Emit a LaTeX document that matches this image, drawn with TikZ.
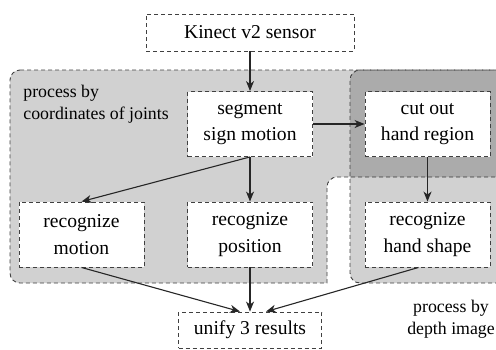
\documentclass[tikz,border=0pt]{standalone}
\usepackage{fontspec}
\setmainfont{Liberation Serif}
\usetikzlibrary{positioning, arrows.meta}

\begin{document}
\begin{tikzpicture}[x=0.5pt, y=-0.5pt, node distance=55.25pt, on grid, font=\fontsize{9.8}{13.3}\selectfont]
% styles
    \tikzstyle{stage} = [rectangle, draw=black!75, dash pattern=on 2pt off 1.5pt, line width=0.45pt, fill=white, align=center, minimum width=62.5pt, minimum height=32.5pt, inner sep=2pt]
    \tikzstyle{io} = [stage, minimum height=18.5pt]
    \tikzstyle{region} = [draw=black!75, dash pattern=on 2pt off 1.5pt, line width=0.45pt, fill=black, fill opacity=0.18, rounded corners=5pt]
    \tikzstyle{tag} = [font=\fontsize{8.9}{11}\selectfont, inner sep=0pt]
    \tikzstyle{line} = [draw, black!85, line width=0.55pt, -{Stealth[length=5pt, width=4pt, inset=1.5pt]}]

    \useasboundingbox (0,0) rectangle (496,349);
    \clip (0,0) rectangle (496,349);

    % regions: joints and depth image
    \path [region] (10,70) -- (520,70) -- (520,177) -- (327,177) [sharp corners] -- (327,283) [rounded corners=5pt] -- (10,283) -- cycle;
    \path [region] (350,70) -- (520,70) -- (520,283) -- (350,283) -- cycle;
    \node [tag, align=left, anchor=north west] (lbljoints) at (23,85) {process by\\coordinates of joints};
    \node [tag, align=center] (lbldepth) at (451,319) {process by\\depth image};

    % nodes
    \node [io, minimum width=104pt] (kinect) at (250,32.5) {Kinect v2 sensor};
    \node [stage, below=45.75pt of kinect] (segment) {segment\\sign motion};
    \node [stage, below of=segment] (position) {recognize\\position};
    \node [stage, left=84.25pt of position] (motion) {recognize\\motion};
    \node [stage, right=88.75pt of segment] (cutout) {cut out\\hand region};
    \node [stage, below of=cutout] (handshape) {recognize\\hand shape};
    \node [io, minimum width=71.5pt, minimum height=18pt, below=47.75pt of position] (unify) {unify 3 results};

    % connexions
    \path [line] (kinect) -- (segment);
    \path [line] (segment) -- (cutout);
    \path [line] (segment.south) -- (motion.north);
    \path [line] (segment) -- (position);
    \path [line] (cutout) -- (handshape);
    \path [line] (motion.south) -- ([xshift=-5pt]unify.north);
    \path [line] (position) -- (unify);
    \path [line] ([xshift=-4.5pt]handshape.south) -- ([xshift=8pt]unify.north);
\end{tikzpicture}
\end{document}
